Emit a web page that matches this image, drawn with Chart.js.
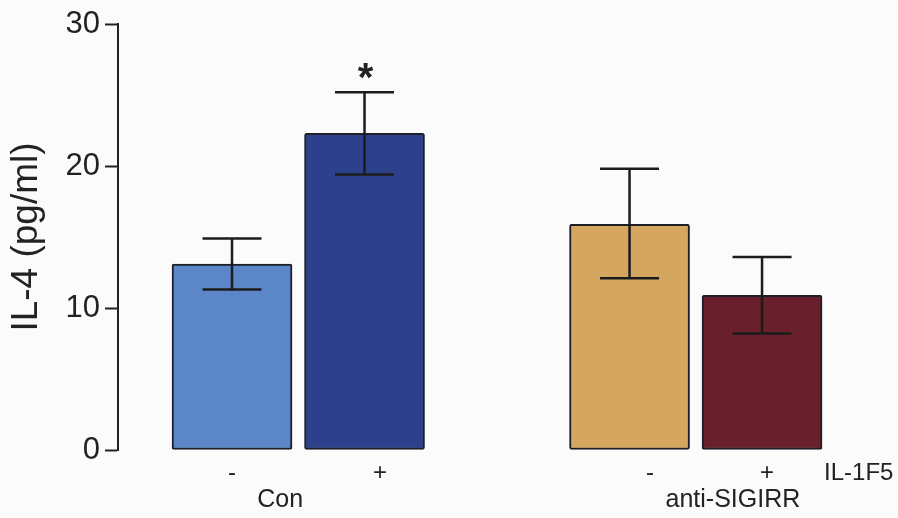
<!DOCTYPE html>
<html><head><meta charset="utf-8">
<script src="https://cdn.jsdelivr.net/npm/chart.js@4"></script>
<style>html,body{margin:0;padding:0;background:#fbfbfb;} #wrap{width:898px;height:518px;position:relative;} canvas{display:block;}</style>
</head><body><div id="wrap"><canvas id="c" width="898" height="518"></canvas></div>
<script>
// ---- data ----
const categories = ['Con -', 'Con +', 'anti-SIGIRR -', 'anti-SIGIRR +'];
const groupLabels = ['Con', 'anti-SIGIRR'];
const treatmentLabels = ['-', '+', '-', '+'];
const rowLabel = 'IL-1F5';
const slotIndex = [1, 2, 4, 5];
const il4Means = [13.1, 22.3, 15.9, 10.9];
const errHigh = [14.9, 25.2, 19.8, 13.6];
const errLow = [11.3, 19.4, 12.1, 8.2];
const significant = [false, true, false, false];
const yTicks = [0, 10, 20, 30];

// ---- layout / style ----
const FONT = "'Liberation Sans', Arial, Helvetica, sans-serif";
const INK = '#222222';
const barColors = ['#5b87c9', '#2c408c', '#d4a65f', '#6a1f2c'];
const tickAt = [1.0, 2.117, 4.155, 5.038];
const groupAt = [1.364, 4.78];
const rowLabelAt = 5.73;

const errorBars = {
  id: 'errorBars',
  afterDatasetsDraw(chart) {
    const {ctx, scales: {x, y}} = chart;
    ctx.save();
    ctx.strokeStyle = '#1c1c1c';
    ctx.lineWidth = 2.5;
    slotIndex.forEach((s, i) => {
      const px = x.getPixelForValue(s);
      const hi = y.getPixelForValue(errHigh[i]);
      const lo = y.getPixelForValue(errLow[i]);
      ctx.beginPath();
      ctx.moveTo(px, hi); ctx.lineTo(px, lo);
      ctx.moveTo(px - 29.5, hi); ctx.lineTo(px + 29.5, hi);
      ctx.moveTo(px - 29.5, lo); ctx.lineTo(px + 29.5, lo);
      ctx.stroke();
      if (significant[i]) {
        ctx.fillStyle = INK;
        ctx.font = 'bold 40px ' + FONT;
        ctx.textAlign = 'center';
        ctx.textBaseline = 'alphabetic';
        ctx.fillText('*', px + 1, hi - 1);
      }
    });
    ctx.restore();
  }
};

const groupText = {
  id: 'groupText',
  afterDraw(chart) {
    const {ctx, scales: {x}} = chart;
    ctx.save();
    ctx.fillStyle = INK;
    ctx.textAlign = 'center';
    ctx.textBaseline = 'middle';
    ctx.font = '25px ' + FONT;
    groupLabels.forEach((g, i) => ctx.fillText(g, x.getPixelForValue(groupAt[i]), 500));
    ctx.font = '24px ' + FONT;
    ctx.fillText(rowLabel, x.getPixelForValue(rowLabelAt), 473);
    ctx.restore();
  }
};

new Chart(document.getElementById('c'), {
  type: 'bar',
  data: {
    labels: categories,
    datasets: [{
      label: 'IL-4',
      data: slotIndex.map((s, i) => ({x: s, y: il4Means[i]})),
      backgroundColor: barColors,
      borderColor: '#1e1e28',
      borderWidth: 2,
      borderSkipped: false,
      borderRadius: 2,
      barThickness: 120
    }]
  },
  options: {
    responsive: false,
    animation: false,
    devicePixelRatio: 1,
    layout: {padding: {top: 24, left: 0, right: 0, bottom: 0}},
    plugins: {legend: {display: false}, tooltip: {enabled: false}},
    scales: {
      x: {
        type: 'linear',
        min: 0.1396,
        max: 6.026,
        offset: false,
        grid: {display: false, drawTicks: false, offset: false},
        border: {display: false},
        afterBuildTicks: s => { s.ticks = tickAt.map(v => ({value: v})); },
        ticks: {
          callback: (v, i) => treatmentLabels[i],
          font: {family: FONT, size: 24}, color: INK, padding: 9,
          maxRotation: 0, autoSkip: false
        },
        afterFit: s => { s.height = 68; }
      },
      y: {
        min: 0, max: 30,
        afterBuildTicks: s => { s.ticks = yTicks.map(v => ({value: v})); },
        grid: {display: true, drawOnChartArea: false, drawTicks: true, tickLength: 13, tickColor: INK, tickWidth: 2},
        border: {display: true, color: INK, width: 2},
        ticks: {font: {family: FONT, size: 31}, color: INK, padding: 5},
        title: {display: true, text: 'IL-4 (pg/ml)', font: {family: FONT, size: 37}, color: INK, padding: {top: 5, bottom: 0}},
        afterFit: s => { s.width = 118; }
      }
    }
  },
  plugins: [errorBars, groupText]
});
</script>
</body></html>
